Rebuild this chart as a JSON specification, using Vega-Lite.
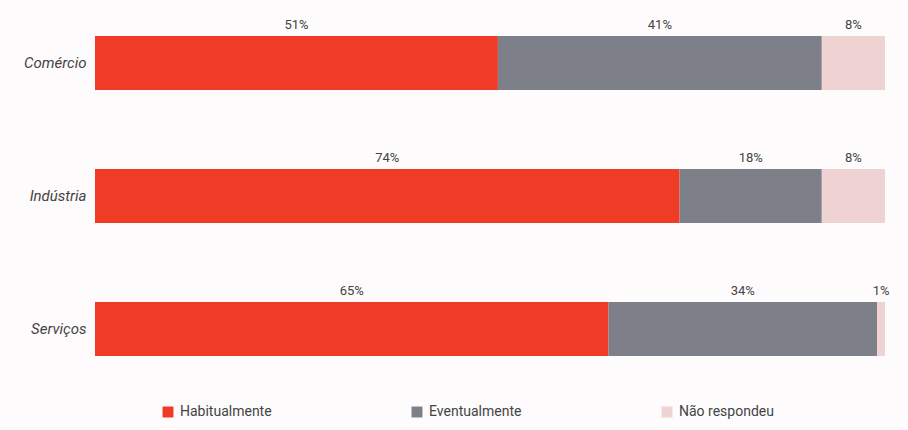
{
  "$schema": "https://vega.github.io/schema/vega-lite/v6.json",
  "width": 790,
  "height": 382,
  "autosize": {"type": "none"},
  "padding": {"left": 95, "top": 5, "right": 23, "bottom": 43},
  "background": "#fdfbfb",
  "config": {"view": {"stroke": null}},
  "data": {
    "values": [
      {"setor": "Comércio", "resposta": "Habitualmente", "ordem": 1, "pct": 51},
      {"setor": "Comércio", "resposta": "Eventualmente", "ordem": 2, "pct": 41},
      {"setor": "Comércio", "resposta": "Não respondeu", "ordem": 3, "pct": 8},
      {"setor": "Indústria", "resposta": "Habitualmente", "ordem": 1, "pct": 74},
      {"setor": "Indústria", "resposta": "Eventualmente", "ordem": 2, "pct": 18},
      {"setor": "Indústria", "resposta": "Não respondeu", "ordem": 3, "pct": 8},
      {"setor": "Serviços", "resposta": "Habitualmente", "ordem": 1, "pct": 65},
      {"setor": "Serviços", "resposta": "Eventualmente", "ordem": 2, "pct": 34},
      {"setor": "Serviços", "resposta": "Não respondeu", "ordem": 3, "pct": 1}
    ]
  },
  "transform": [
    {"stack": "pct", "groupby": ["setor"], "sort": [{"field": "ordem"}], "as": ["p0", "p1"]},
    {"calculate": "(datum.p0 + datum.p1) / 2", "as": "mid"},
    {"calculate": "datum.pct + '%'", "as": "rotulo"}
  ],
  "encoding": {
    "y": {
      "field": "setor",
      "type": "nominal",
      "sort": ["Comércio", "Indústria", "Serviços"],
      "scale": {"paddingInner": 0.594, "paddingOuter": 0.233},
      "axis": {
        "title": null,
        "domain": false,
        "ticks": false,
        "labelFont": "Roboto",
        "labelFontStyle": "italic",
        "labelFontSize": 15,
        "labelColor": "#444444",
        "labelPadding": 9
      }
    }
  },
  "layer": [
    {
      "mark": {"type": "bar"},
      "encoding": {
        "x": {"field": "p0", "type": "quantitative", "scale": {"domain": [0, 100], "nice": false, "zero": true}, "axis": null},
        "x2": {"field": "p1"},
        "color": {
          "field": "resposta",
          "type": "nominal",
          "sort": ["Habitualmente", "Eventualmente", "Não respondeu"],
          "scale": {
            "domain": ["Habitualmente", "Eventualmente", "Não respondeu"],
            "range": ["#f03b26", "#7e8089", "#efd2d2"]
          },
          "legend": {
            "title": null,
            "orient": "none",
            "legendX": 66,
            "legendY": 400,
            "direction": "horizontal",
            "columns": 3,
            "columnPadding": 138,
            "symbolType": "square",
            "symbolSize": 120,
            "symbolStrokeWidth": 0,
            "labelFont": "Roboto",
            "labelFontSize": 14,
            "labelColor": "#444444",
            "labelOffset": 5,
            "labelLimit": 0
          }
        }
      }
    },
    {
      "mark": {"type": "text", "font": "Roboto", "fontSize": 13, "color": "#444444", "baseline": "bottom", "dy": -31},
      "encoding": {
        "x": {"field": "mid", "type": "quantitative"},
        "text": {"field": "rotulo", "type": "nominal"},
        "detail": {"field": "resposta"}
      }
    }
  ]
}
